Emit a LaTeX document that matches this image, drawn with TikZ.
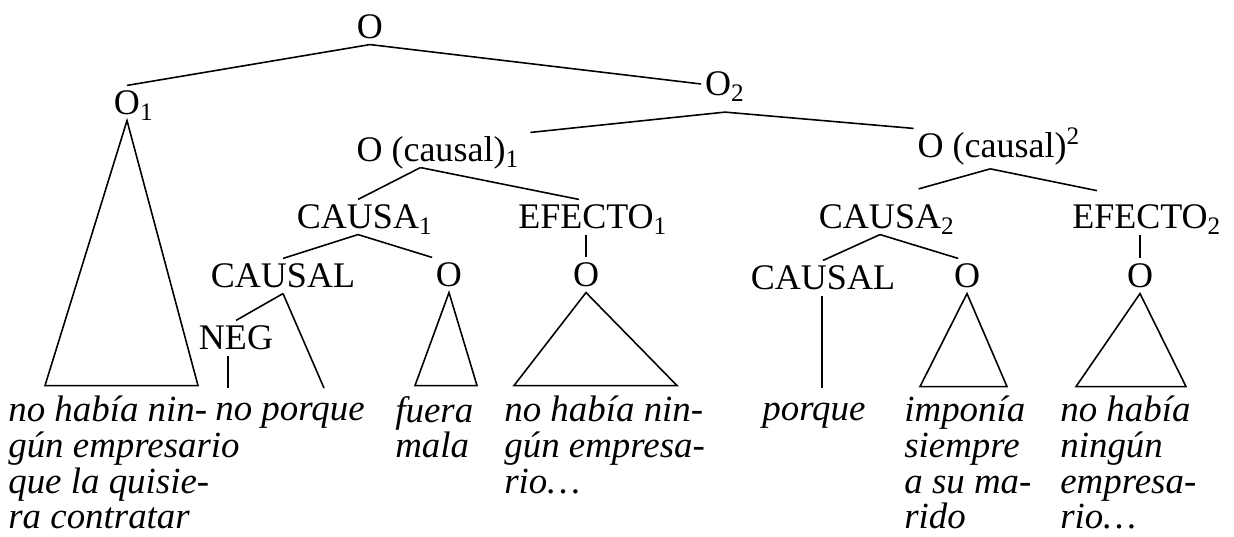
\documentclass[tikz,border=0pt]{standalone}
\usepackage{fontspec}
\setmainfont{Liberation Serif}
\usepackage{tikz}
\tikzstyle{cat}=[inner xsep=2pt,inner ysep=3pt,text height=13.6pt,text depth=0pt,font=\fontsize{20.5}{21}\selectfont]
\tikzstyle{leaf}=[anchor=north west,align=left,inner sep=0pt,font=\fontsize{21}{20.3}\selectfont\itshape,execute at begin node={\rule{0pt}{14pt}}]
\tikzstyle{branch}=[line width=0.9pt]
\newcommand{\lsub}[1]{\rlap{\textsubscript{#1}}}
\newcommand{\lsup}[1]{\rlap{\textsuperscript{#1}}}

\begin{document}
\begin{tikzpicture}[x=0.02cm,y=-0.02cm]
  \useasboundingbox (0,0) rectangle (1234,537);
  \node[cat] (o) at (370,27) {O};
  \node[cat] (o1) at (127,103) {O\lsub{1}};
  \node[cat] (o2) at (718,84) {O\lsub{2}};
  \node[cat] (oc1) at (431,150) {O (causal)\lsub{1}};
  \node[cat] (oc2) at (992,146) {O (causal)\lsup{2}};
  \node[cat] (causa1) at (358,217) {CAUSA\lsub{1}};
  \node[cat] (efecto1) at (586,217) {EFECTO\lsub{1}};
  \node[cat] (causa2) at (880,217) {CAUSA\lsub{2}};
  \node[cat] (efecto2) at (1140,217) {EFECTO\lsub{2}};
  \node[cat] (causal1) at (283,276) {CAUSAL};
  \node[cat] (oa) at (449,275) {O};
  \node[cat] (ob) at (586,275) {O};
  \node[cat] (causal2) at (823,278) {CAUSAL};
  \node[cat] (oc) at (967,276) {O};
  \node[cat] (od) at (1140,276) {O};
  \node[cat] (neg) at (236,338) {NEG};

  \node[leaf] (t1) at (8,396) {no había nin-\\gún empresario\\que la quisie-\\ra contratar};
  \node[leaf] (t2) at (215,396) {no porque};
  \node[leaf] (t3) at (395,396) {fuera\\mala};
  \node[leaf] (t4) at (504,396) {no había nin-\\gún empresa-\\rio\ldots};
  \node[leaf] (t5) at (762,396) {porque};
  \node[leaf] (t6) at (904,396) {imponía\\siempre\\a su ma-\\rido};
  \node[leaf] (t7) at (1060,396) {no había\\ningún\\empresa-\\rio\ldots};

  \coordinate (n1) at (228,388);
  \coordinate (n2) at (324,388);
  \coordinate (n5) at (822,388);

  \draw[branch] (o.south) -- (o1.north);
  \draw[branch] (o.south) -- (o2.west);
  \draw[branch] ([xshift=4pt,yshift=-6pt]o2.south) -- ([xshift=12pt]oc1.north east);
  \draw[branch] ([xshift=4pt,yshift=-6pt]o2.south) -- (oc2.north west);
  \draw[branch] ([xshift=-6pt]oc1.south) -- (causa1.north);
  \draw[branch] ([xshift=-6pt]oc1.south) -- ([xshift=-4pt]efecto1.north);
  \draw[branch] ([xshift=-1pt,yshift=-3pt]oc2.south) -- ([xshift=22pt,yshift=6pt]causa2.north);
  \draw[branch] ([xshift=-1pt,yshift=-3pt]oc2.south) -- ([xshift=-24.5pt,yshift=5pt]efecto2.north);
  \draw[branch] (causa1.south) -- (causal1.north);
  \draw[branch] (causa1.south) -- (oa.north west);
  \draw[branch] (efecto1.south) -- (ob.north);
  \draw[branch] (causa2.south) -- (causal2.north);
  \draw[branch] (causa2.south) -- ([xshift=-5pt]oc.north);
  \draw[branch] (efecto2.south) -- (od.north);
  \draw[branch] (causal1.south) -- (neg.north);
  \draw[branch] (causal1.south) -- (n2);
  \draw[branch] (neg.south -| n1) -- (n1);
  \draw[branch] (causal2.south -| n5) -- (n5);

  \draw[branch] (o1.south) -- ++(-82,265) -- ++(153,0) -- cycle;
  \draw[branch] (oa.south) -- ++(-34,93) -- ++(62,0) -- cycle;
  \draw[branch] (ob.south) -- ++(-72,93) -- ++(163,0) -- cycle;
  \draw[branch] (oc.south) -- ++(-47,93) -- ++(87,0) -- cycle;
  \draw[branch] (od.south) -- ++(-64,93) -- ++(110,0) -- cycle;
\end{tikzpicture}
\end{document}
